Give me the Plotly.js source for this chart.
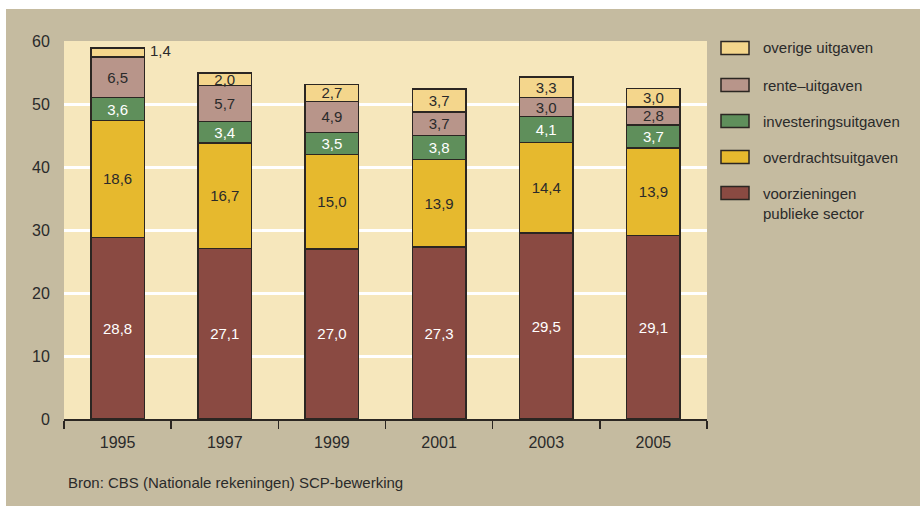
<!DOCTYPE html>
<html>
<head>
<meta charset="utf-8">
<script src="https://cdn.plot.ly/plotly-3.0.1.min.js"></script>
<style>
  html, body { margin: 0; padding: 0; background: #ffffff; width: 920px; height: 506px; overflow: hidden; }
  #chart { position: absolute; left: 6px; top: 9px; width: 914px; height: 497px; }
</style>
</head>
<body>
<div id="chart"></div>
<script>
// ---- data ----
const years = ['1995', '1997', '1999', '2001', '2003', '2005'];
const voorzieningen = [28.8, 27.1, 27.0, 27.3, 29.5, 29.1];
const overdracht = [18.6, 16.7, 15.0, 13.9, 14.4, 13.9];
const investering = [3.6, 3.4, 3.5, 3.8, 4.1, 3.7];
const rente = [6.5, 5.7, 4.9, 3.7, 3.0, 2.8];
const overige = [1.4, 2.0, 2.7, 3.7, 3.3, 3.0];
const seriesNames = ['voorzieningen<br>publieke sector', 'overdrachtsuitgaven', 'investeringsuitgaven', 'rente\u2013uitgaven', 'overige uitgaven'];
const yTicks = [0, 10, 20, 30, 40, 50, 60];
const sourceNote = 'Bron: CBS (Nationale rekeningen) SCP-bewerking';

// ---- styles ----
const colors = ['#8a4a42', '#e6b92e', '#5f8f5b', '#b8958a', '#f4d68c'];
const textColors = ['#ffffff', '#2a2a2a', '#ffffff', '#2a2a2a', '#2a2a2a'];
const FONT = 'Liberation Sans, Arial, sans-serif';
const fmt = v => v.toFixed(1).replace('.', ',');

const allSeries = [voorzieningen, overdracht, investering, rente, overige];
// labels that sit outside the bar (too small segment)
const outsideFlags = [
  [false, false, false, false, false, false],
  [false, false, false, false, false, false],
  [false, false, false, false, false, false],
  [false, false, false, false, false, false],
  [true, false, false, false, false, false]
];

const traces = allSeries.map((vals, i) => ({
  type: 'bar',
  x: years,
  y: vals,
  name: seriesNames[i],
  showlegend: false,
  marker: { color: colors[i], line: { color: '#2b2622', width: 1.5 } },
  text: vals.map((v, j) => outsideFlags[i][j] ? '' : fmt(v)),
  textposition: 'inside',
  insidetextanchor: 'middle',
  textangle: 0,
  constraintext: 'none',
  textfont: { family: FONT, size: 15, color: textColors[i] },
  hoverinfo: 'x+y+name'
}));

const annotations = [];
allSeries.forEach((vals, i) => {
  vals.forEach((v, j) => {
    if (outsideFlags[i][j]) {
      let base = 0;
      for (let k = 0; k < i; k++) base += allSeries[k][j];
      annotations.push({
        x: j, y: base + v / 2, xref: 'x', yref: 'y',
        text: fmt(v), showarrow: false, xanchor: 'left', xshift: 30, yshift: 2,
        font: { family: FONT, size: 15, color: '#2a2a2a' }
      });
    }
  });
});

// custom legend (paper coordinates)
const plotL = 64, plotR = 707, plotT = 41, plotB = 419;
const pw = plotR - plotL, ph = plotB - plotT;
const px = x => (x - plotL) / pw;
const py = y => (plotB - y) / ph;
const legendY = [48, 85, 121, 157, 193];
const legendOrder = [4, 3, 2, 1, 0];
const shapes = [];
legendOrder.forEach((si, r) => {
  const cy = legendY[r];
  shapes.push({
    type: 'rect', xref: 'paper', yref: 'paper',
    x0: px(721), x1: px(749), y0: py(cy + 6.5), y1: py(cy - 6.5),
    fillcolor: colors[si], line: { color: '#2b2622', width: 1.5 }
  });
  annotations.push({
    xref: 'paper', yref: 'paper', x: px(761), y: py(cy), xanchor: 'left',
    yanchor: si === 0 ? 'top' : 'middle', yshift: si === 0 ? 10 : 0,
    align: 'left', showarrow: false, text: seriesNames[si],
    font: { family: FONT, size: 15, color: '#2a2a2a' }
  });
});

annotations.push({
  xref: 'paper', yref: 'paper', x: px(66), y: py(482), xanchor: 'left', yanchor: 'middle',
  showarrow: false, text: sourceNote,
  font: { family: FONT, size: 15, color: '#2a2a2a' }
});

const layout = {
  width: 914, height: 497,
  margin: { l: plotL - 6, r: 914 - (plotR - 6), t: plotT - 9, b: 497 - (plotB - 9), pad: 0 },
  paper_bgcolor: '#c5bba0',
  plot_bgcolor: '#f6e7bc',
  barmode: 'stack',
  bargap: 0.5,
  separators: ',.',
  font: { family: FONT, size: 16, color: '#2a2a2a' },
  uniformtext: { minsize: 15, mode: 'show' },
  xaxis: {
    type: 'category',
    categoryorder: 'array',
    categoryarray: years,
    range: [-0.5, years.length - 0.5],
    autorange: false,
    tickson: 'boundaries',
    ticks: 'outside', ticklen: 8, tickwidth: 1.5, tickcolor: '#2b2622',
    ticklabelstandoff: 8,
    showline: true, linecolor: '#2b2622', linewidth: 1.5,
    showgrid: false, zeroline: false,
    tickangle: 0,
    tickfont: { family: FONT, size: 16, color: '#2a2a2a' },
    fixedrange: true
  },
  yaxis: {
    range: [0, 60],
    autorange: false,
    tickvals: yTicks,
    ticktext: yTicks.map(String),
    ticks: 'outside', ticklen: 10, tickcolor: 'rgba(0,0,0,0)',
    showgrid: true, gridcolor: '#ffffff', gridwidth: 3,
    zeroline: false, showline: false,
    tickfont: { family: FONT, size: 16, color: '#2a2a2a' },
    fixedrange: true
  },
  shapes: shapes,
  annotations: annotations
};

Plotly.newPlot('chart', traces, layout, { displayModeBar: false, staticPlot: true });
</script>
</body>
</html>
